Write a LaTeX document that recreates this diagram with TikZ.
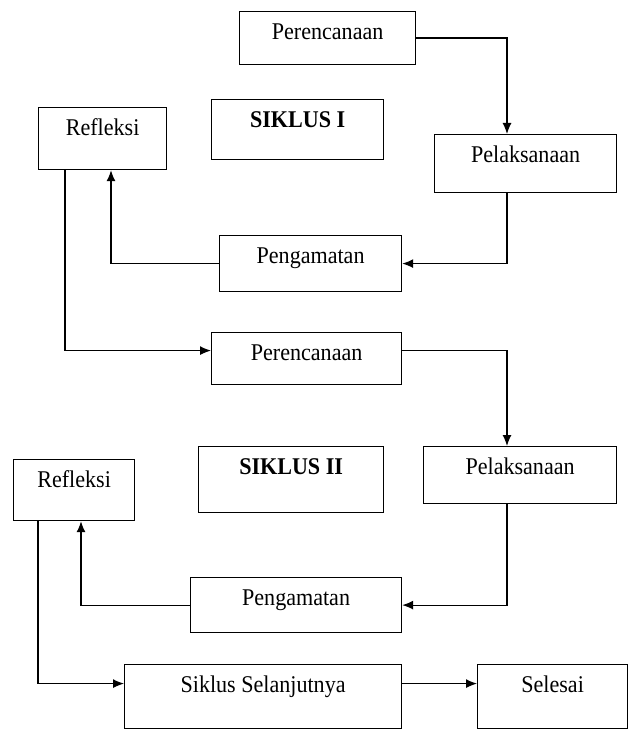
\documentclass[tikz,border=0pt]{standalone}
\usepackage{fontspec}
\setmainfont[FakeStretch=0.92]{Liberation Serif}
\usetikzlibrary{arrows.meta}
\tikzset{
    box/.style={draw, line width=1.2pt, anchor=north west, inner ysep=0pt, text height=28pt, font=\fontsize{24pt}{28pt}\selectfont},
    arr/.style={line width=1.2pt, -{Latex[length=11pt,width=9pt]}}
}
\begin{document}
\begin{tikzpicture}[x=1pt,y=-1pt]
    \useasboundingbox (0,0) rectangle (639,730);
    \node[box, minimum width=176pt, text depth=25pt] (per1) at (239,11) {Perencanaan};
    \node[box, minimum width=172pt, text depth=32pt, font=\fontsize{24pt}{28pt}\selectfont\bfseries] (sik1) at (211,99) {SIKLUS I};
    \node[box, minimum width=128pt, text depth=34pt] (refl1) at (38,107) {Refleksi};
    \node[box, minimum width=182pt, text depth=30pt] (pel1) at (434,134) {Pelaksanaan};
    \node[box, minimum width=182pt, text depth=28pt] (peng1) at (219,235) {Pengamatan};
    \node[box, minimum width=190pt, text depth=24pt] (per2) at (211,332) {Perencanaan};
    \node[box, minimum width=193pt, text depth=29pt] (pel2) at (423,446) {Pelaksanaan};
    \node[box, minimum width=185pt, text depth=38pt, font=\fontsize{24pt}{28pt}\selectfont\bfseries] (sik2) at (198,446) {SIKLUS II};
    \node[box, minimum width=121pt, text depth=33pt] (refl2) at (13,459) {Refleksi};
    \node[box, minimum width=211pt, text depth=27pt] (peng2) at (190,577) {Pengamatan};
    \node[box, minimum width=277pt, text depth=36pt] (ss) at (124,664) {Siklus Selanjutnya};
    \node[box, minimum width=150pt, text depth=36pt] (sel) at (477,664) {Selesai};
    \draw[arr] (per1.east) -| ([xshift=73pt]pel1.north west);
    \draw[arr] ([xshift=73pt]pel1.south west) |- (peng1.east);
    \draw[arr] (peng1.west) -| ([xshift=73pt]refl1.south west);
    \draw[arr] ([xshift=27pt]refl1.south west) |- ([yshift=8pt]per2.west);
    \draw[arr] ([yshift=8pt]per2.east) -| ([xshift=84pt]pel2.north west);
    \draw[arr] ([xshift=84pt]pel2.south west) |- (peng2.east);
    \draw[arr] (peng2.west) -| ([xshift=68pt]refl2.south west);
    \draw[arr] ([xshift=25pt]refl2.south west) |- ([yshift=13pt]ss.west);
    \draw[arr] ([yshift=13pt]ss.east) -- ([yshift=13pt]sel.west);
\end{tikzpicture}
\end{document}
